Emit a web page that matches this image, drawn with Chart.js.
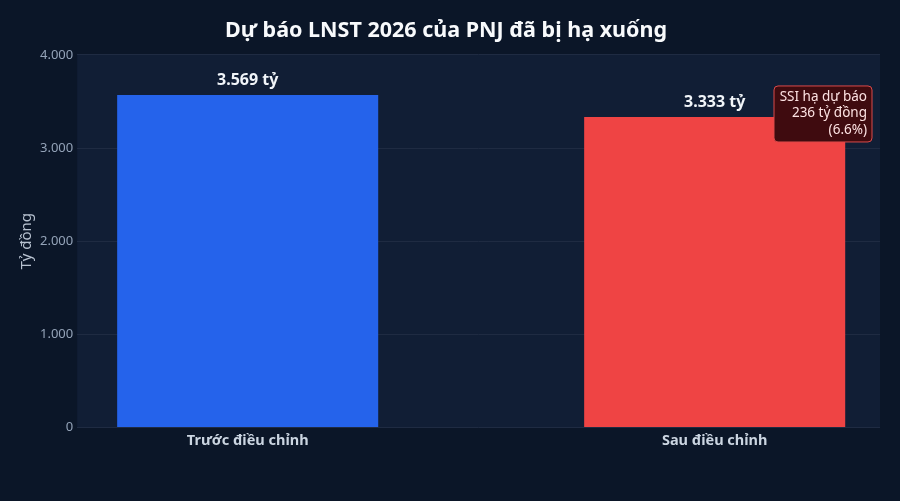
<!DOCTYPE html>
<html>
<head>
<meta charset="utf-8">
<script src="https://cdn.jsdelivr.net/npm/chart.js@4"></script>
<style>
  html, body { margin: 0; padding: 0; background: #0b1628; }
  #wrap { width: 900px; height: 501px; }
</style>
</head>
<body>
<div id="wrap"><canvas id="myChart"></canvas></div>
<script>
const categories = ["Trước điều chỉnh", "Sau điều chỉnh"];
const profitValues = [3569, 3333];
const valueLabels = ["3.569 tỷ", "3.333 tỷ"];
const barColors = ["#2563eb", "#ef4444"];
const noteLines = ["SSI hạ dự báo", "236 tỷ đồng", "(6.6%)"];

const FONT = "'Noto Sans', 'Open Sans', sans-serif";

const fmt = (v) => v === 0 ? "0" : v.toLocaleString("de-DE");

const plotBg = {
  id: "plotBg",
  beforeDraw(chart) {
    const { ctx, chartArea: a } = chart;
    ctx.save();
    ctx.fillStyle = "#111e35";
    ctx.fillRect(a.left, a.top, a.right - a.left, a.bottom - a.top);
    ctx.restore();
  }
};

const barLabels = {
  id: "barLabels",
  afterDatasetsDraw(chart) {
    const { ctx } = chart;
    const meta = chart.getDatasetMeta(0);
    ctx.save();
    ctx.font = "bold 16px " + FONT;
    ctx.fillStyle = "#f1f5f9";
    ctx.textAlign = "center";
    ctx.textBaseline = "bottom";
    meta.data.forEach((bar, i) => {
      ctx.fillText(valueLabels[i], bar.x, bar.y - 7);
    });

    // note box by the second bar
    const bar = meta.data[1];
    const right = chart.chartArea.right - 8;
    const top = bar.y - 31;
    ctx.font = "13.5px " + FONT;
    const w = 98, h = 56;
    const left = right - w;
    ctx.beginPath();
    ctx.roundRect(left, top, w, h, 4);
    ctx.fillStyle = "#3f0b0f";
    ctx.fill();
    ctx.strokeStyle = "#dc4a4a";
    ctx.lineWidth = 1;
    ctx.stroke();
    ctx.fillStyle = "#fde2e2";
    ctx.textAlign = "right";
    ctx.textBaseline = "middle";
    noteLines.forEach((t, i) => {
      ctx.fillText(t, right - 5, top + 11 + i * 16.5);
    });
    ctx.restore();
  }
};

new Chart(document.getElementById("myChart"), {
  type: "bar",
  data: {
    datasets: [{
      data: profitValues.map((v, i) => ({ x: i, y: v })),
      backgroundColor: barColors,
      barPercentage: 0.559,
      categoryPercentage: 1
    }]
  },
  options: {
    responsive: true,
    maintainAspectRatio: false,
    animation: false,
    layout: { padding: { top: 4, right: 20, bottom: 46, left: 12 } },
    plugins: {
      legend: { display: false },
      tooltip: { enabled: false },
      title: {
        display: true,
        text: "Dự báo LNST 2026 của PNJ đã bị hạ xuống",
        color: "#f8fafc",
        font: { family: FONT, size: 21.5, weight: "bold" },
        padding: { top: 14, bottom: 11 }
      }
    },
    scales: {
      x: {
        type: "linear",
        min: -0.365,
        max: 1.354,
        offset: false,
        afterBuildTicks(axis) {
          axis.ticks = categories.map((_, i) => ({ value: i }));
        },
        grid: { display: false, drawTicks: false },
        border: { display: false },
        ticks: {
          color: "#cbd5e1",
          font: { family: FONT, size: 14.5, weight: "bold" },
          padding: 5,
          autoSkip: false,
          maxRotation: 0,
          callback: (v) => categories[v]
        }
      },
      y: {
        min: 0,
        max: 4000,
        ticks: { stepSize: 1000, color: "#94a3b8", font: { family: FONT, size: 13 }, callback: fmt, padding: 4 },
        grid: { color: "#1f2b42", drawTicks: false },
        border: { display: false },
        title: {
          display: true,
          text: "Tỷ đồng",
          color: "#b8c2d0",
          font: { family: FONT, size: 15 },
          padding: { top: 6, bottom: 0 }
        }
      }
    }
  },
  plugins: [plotBg, barLabels]
});
</script>
</body>
</html>
